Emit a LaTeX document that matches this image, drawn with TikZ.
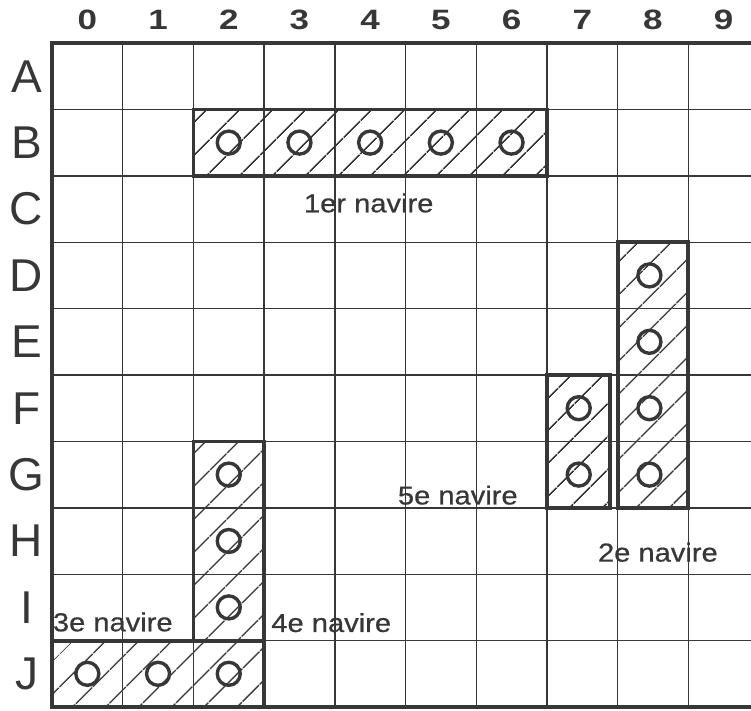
\documentclass[tikz,border=0pt]{standalone}
\usepackage{fontspec}
\setmainfont{Liberation Sans}
\newfontfamily\mediumfont[FakeBold=0.6]{Liberation Sans}
\usetikzlibrary{patterns.meta}

% wide lettering
\newcommand{\wide}[2]{\scalebox{#1}[1]{#2}}

\begin{document}
\begin{tikzpicture}[
    x=70.7pt, y=-66.4pt,
    % Styles
    gridline/.style={line width=1.4pt, draw=inkgray},
    border/.style={line width=3.6pt, draw=inkgray},
    ship/.style={
        line width=3.8pt, draw=inkgray,
        pattern={Lines[angle=45, distance=23.5pt, line width=1.5pt]},
        pattern color=inkgray
    },
    shot/.style={
        circle, draw=inkgray, line width=3.4pt,
        minimum size=23pt, inner sep=0pt
    },
    collabel/.style={font=\bfseries\fontsize{28}{28}\selectfont, text=inkgray},
    rowlabel/.style={font=\fontsize{46}{46}\selectfont, text=inkgray},
    shiplabel/.style={font=\mediumfont\fontsize{26}{26}\selectfont, text=inkgray},
]
% Define colors
\definecolor{inkgray}{RGB}{55,55,55}

\useasboundingbox (-0.7355,-0.6476) rectangle (9.887,10.06);
\clip (-0.7355,-0.6476) rectangle (9.887,10.06);

% Grid
\foreach \i in {1,...,9} {
    \draw[gridline] (\i,0) -- (\i,10);
    \draw[gridline] (0,\i) -- (10,\i);
}
\draw[border] (0,0) rectangle (10,10);

% Column and row labels
\foreach \c in {0,...,9} {
    \node[collabel] (col\c) at (\c+0.5,-0.35) {\wide{1.25}{\c}};
}
\foreach \r [count=\j from 0] in {A,B,C,D,E,F,G,H,I,J} {
    \node[rowlabel] (row\r) at (-0.36,\j+0.5) {\r};
}

% Ships
\draw[ship] (2,1) rectangle (7,2);
\draw[ship] (8,3) rectangle (9,7);
\draw[ship] (0,9) rectangle (3,10);
\draw[ship] (2,6) rectangle (3,9);
\draw[ship] (7,5) rectangle (7.89,7);

% Shots
\foreach \c in {2,...,6} {
    \node[shot] (B\c) at (\c+0.5,1.5) {};
}
\foreach \r/\j in {D/3,E/4,F/5,G/6} {
    \node[shot] (\r8) at (8.45,\j+0.5) {};
}
\foreach \c in {0,1,2} {
    \node[shot] (J\c) at (\c+0.5,9.5) {};
}
\foreach \r/\j in {G/6,H/7,I/8} {
    \node[shot] (\r2) at (2.5,\j+0.5) {};
}
\foreach \r/\j in {F/5,G/6} {
    \node[shot] (\r7) at (7.45,\j+0.5) {};
}

% Ship names
\node[shiplabel] (nav1) at (4.48,2.41) {\wide{1.12}{1er navire}};
\node[shiplabel] (nav2) at (8.57,7.67) {\wide{1.12}{2e navire}};
\node[shiplabel] (nav3) at (0.86,8.72) {\wide{1.12}{3e navire}};
\node[shiplabel] (nav4) at (3.95,8.73) {\wide{1.12}{4e navire}};
\node[shiplabel] (nav5) at (5.74,6.81) {\wide{1.12}{5e navire}};

\end{tikzpicture}
\end{document}
